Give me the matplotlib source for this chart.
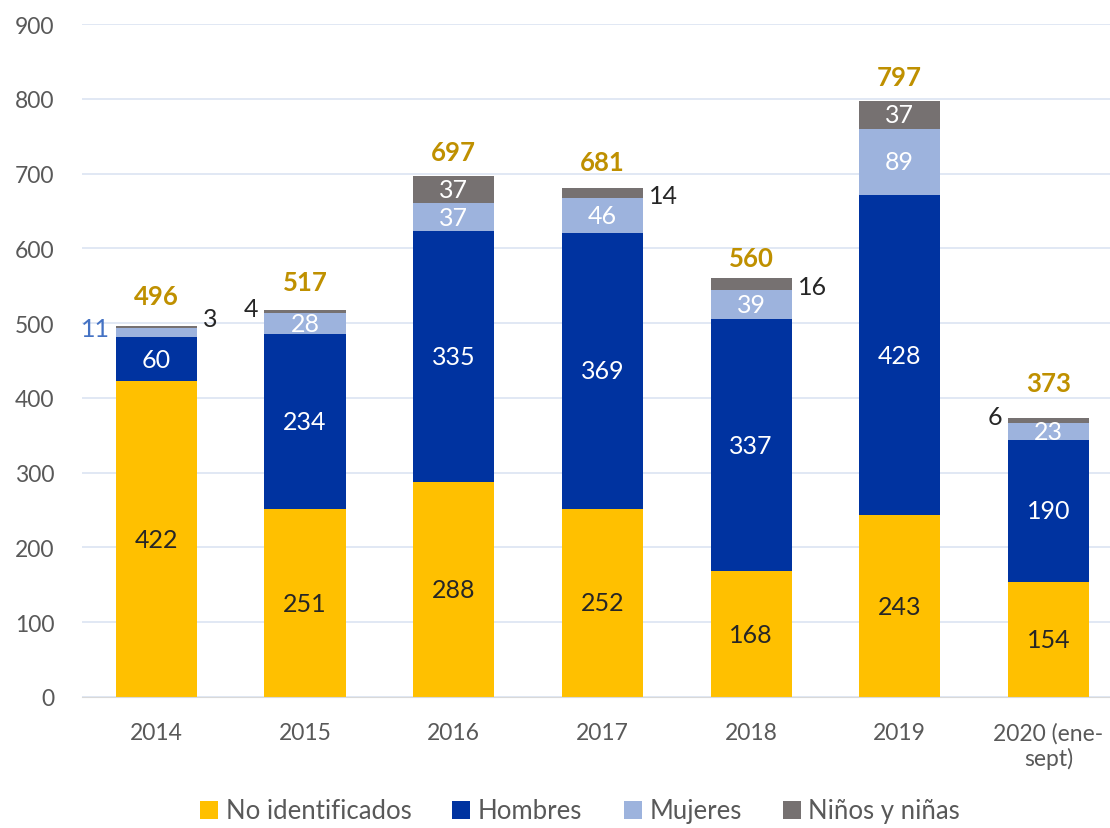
import numpy as np
from matplotlib import pyplot as plt
from matplotlib.patches import Patch

years = ['2014', '2015', '2016', '2017', '2018', '2019', '2020 (ene-\nsept)']
no_ident = [422, 251, 288, 252, 168, 243, 154]
hombres = [60, 234, 335, 369, 337, 428, 190]
mujeres = [11, 28, 37, 46, 39, 89, 23]
ninos = [3, 4, 37, 14, 16, 37, 6]
totales = [496, 517, 697, 681, 560, 797, 373]

plt.rcParams['font.family'] = ['Lato', 'DejaVu Sans']

fig = plt.figure(figsize=(11.1, 8.29), dpi=100)
ax = fig.add_axes([82 / 1110, 131 / 829, 1040.7 / 1110, 673 / 829])

x = np.arange(len(years))
w = 0.545
colors = ['#FFC000', '#0033A0', '#9DB3DD', '#767171']
series = [no_ident, hombres, mujeres, ninos]
names = ['No identificados', 'Hombres', 'Mujeres', 'Niños y niñas']

bottom = np.zeros(len(years))
for vals, col in zip(series, colors):
    ax.bar(x, vals, w, bottom=bottom, color=col, zorder=2)
    bottom += np.array(vals)

ax.set_xlim(-0.5, 6.5)
ax.set_ylim(0, 900)
ax.set_yticks(range(0, 901, 100))
ax.grid(axis='y', color='#DCE4F2', linewidth=1.2, zorder=0)
for s in ['top', 'right', 'left']:
    ax.spines[s].set_visible(False)
ax.spines['bottom'].set_color('#D9D9D9')
ax.tick_params(axis='both', length=0, labelsize=16.5, colors='#595959')
ax.tick_params(axis='y', pad=20)
ax.tick_params(axis='x', pad=18)
ax.set_xticks(x)
ax.set_xticklabels(years)
for lbl in ax.get_yticklabels():
    lbl.set_horizontalalignment('right')

# etichette dei segmenti
for i in range(len(years)):
    base = 0
    for k, vals in enumerate(series):
        v = vals[i]
        mid = base + v / 2
        if v >= 20:
            col = '#262626' if k == 0 else 'white'
            ax.text(x[i], mid, str(v), ha='center', va='center', color=col, fontsize=18, zorder=3)
        else:
            # segmenti piccoli: etichetta fuori dalla barra
            left = (k == 2 and i == 0) or (k == 3 and i in (1, 6))
            if left:
                col = '#4472C4' if k == 2 else '#262626'
                ax.text(x[i] - w / 2 - 0.04, mid + 5, str(v), ha='right', va='center', color=col, fontsize=18)
            else:
                ax.text(x[i] + w / 2 + 0.04, mid + 12 if i == 0 else mid - 3, str(v), ha='left', va='center',
                        color='#262626', fontsize=18)
        base += v

pads = [30, 28, 24, 26, 20, 24, 35]
for i, t in enumerate(totales):
    ax.annotate(str(t), (x[i], t), xytext=(0, pads[i] * 0.72), textcoords='offset points',
                ha='center', va='center', color='#BF9000', fontsize=18.5, fontweight='bold')

handles = [Patch(facecolor=c) for c in colors]
fig.legend(handles, names, loc='center', bbox_to_anchor=(580 / 1110, 1 - 812 / 829), ncol=4,
           frameon=False, fontsize=18.5, handlelength=0.7, handleheight=0.7, columnspacing=1.6,
           handletextpad=0.3, labelcolor='#595959')

plt.savefig('out.png')
